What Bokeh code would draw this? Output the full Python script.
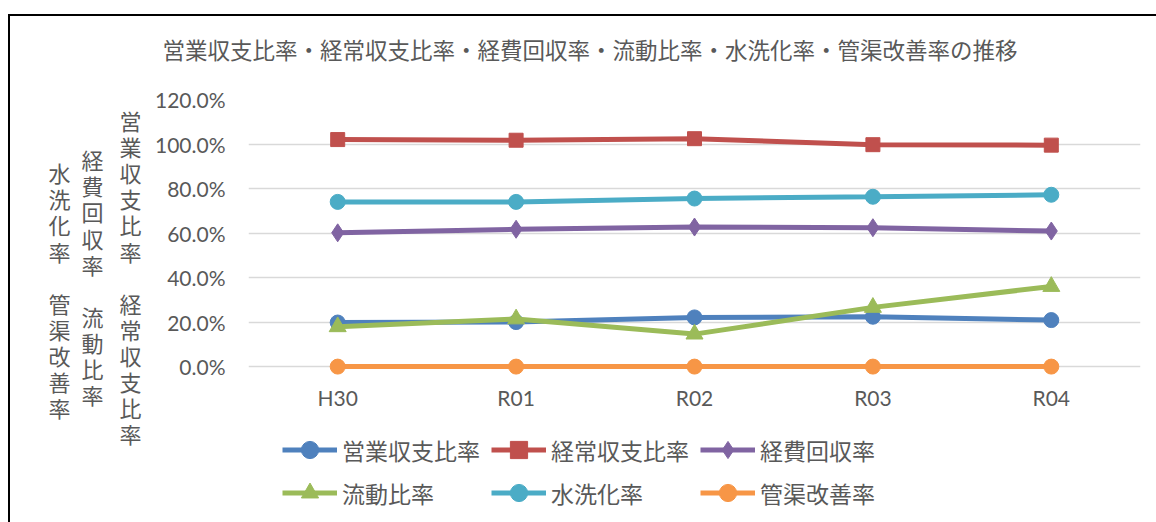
from bokeh.plotting import figure
from bokeh.layouts import column
from bokeh.models import (Range1d, FactorRange, Legend, LegendItem, Title, LinearAxis,
                          PrintfTickFormatter, FixedTicker)
from bokeh.embed import file_html
from bokeh.resources import INLINE

# ---- data ----
categories = ["H30", "R01", "R02", "R03", "R04"]
eigyo = [19.8, 20.0, 22.1, 22.4, 20.9]      # 営業収支比率
keijo = [102.0, 101.7, 102.4, 99.7, 99.5]   # 経常収支比率
keihi = [60.1, 61.7, 62.7, 62.4, 60.9]      # 経費回収率
ryudo = [17.9, 21.4, 14.6, 26.6, 36.0]      # 流動比率
suisen = [74.0, 74.0, 75.5, 76.3, 77.2]     # 水洗化率
kankyo = [0.0, 0.0, 0.0, 0.0, 0.0]          # 管渠改善率
series_names = ["営業収支比率", "経常収支比率", "経費回収率", "流動比率", "水洗化率", "管渠改善率"]
y_ticks = [0, 20, 40, 60, 80, 100, 120]
title_text = "営業収支比率・経常収支比率・経費回収率・流動比率・水洗化率・管渠改善率の推移"
axis_title_parts = [["営業収支比率", "経常収支比率"], ["経費回収率", "流動比率"], ["水洗化率", "管渠改善率"]]

CJK = "Noto Sans CJK JP"
NUM = "Lato"
TXT = "#595959"
BLANK = "\u3000"

# ---- main chart ----
p = figure(width=1146, height=506, title=None,
           x_range=FactorRange(*categories, range_padding=0),
           y_range=Range1d(-4, 120), output_backend="svg", toolbar_location=None,
           min_border_left=238, min_border_right=16, min_border_top=83, min_border_bottom=147)
p.outline_line_color = None
p.background_fill_color = "white"
p.border_fill_color = "white"

p.xgrid.grid_line_color = None
p.ygrid.grid_line_color = "#D9D9D9"
p.ygrid.grid_line_width = 1.5
p.yaxis.ticker = FixedTicker(ticks=y_ticks)
p.yaxis.formatter = PrintfTickFormatter(format="%.1f%%")
for ax in (p.xaxis[0], p.yaxis[0]):
    ax.axis_line_color = None
    ax.major_tick_line_color = None
    ax.minor_tick_line_color = None
    ax.major_tick_out = 0
    ax.minor_tick_out = 0
    ax.major_label_text_font = NUM
    ax.major_label_text_font_size = "21px"
    ax.major_label_text_color = TXT
p.yaxis.major_label_standoff = 23
p.xaxis.major_label_standoff = 9

# spacer (closest to the frame) then the real title above it
p.add_layout(Title(text=BLANK, text_font=CJK, text_font_size="10px", standoff=18,
                   text_color="white"), "above")
p.add_layout(Title(text=title_text, align="left", offset=-86, standoff=0,
                   text_font=CJK, text_font_size="22.5px", text_color=TXT,
                   text_font_style="normal"), "above")

# vertical stacked axis title: three columns of upright characters
lead_blanks = [3, 3, 4]
standoffs = [10, 13, 8]
for parts, nb, so in zip(axis_title_parts, lead_blanks, standoffs):
    lines = [BLANK] * nb + list(parts[0]) + [BLANK] + list(parts[1])
    ax = LinearAxis(axis_label="\n".join(lines), ticker=FixedTicker(ticks=[]),
                    axis_line_color=None, major_tick_line_color=None,
                    minor_tick_line_color=None, major_tick_out=0, minor_tick_out=0,
                    axis_label_orientation="horizontal",
                    axis_label_standoff=so, axis_label_text_font=CJK,
                    axis_label_text_font_size="22px", axis_label_text_color=TXT,
                    axis_label_text_font_style="normal", axis_label_text_line_height=0.813)
    p.add_layout(ax, "left")

specs = [
    (eigyo, "#4F81BD", "circle", 15),
    (keijo, "#C0504D", "square", 14),
    (keihi, "#8064A2", "diamond", 18),
    (ryudo, "#9BBB59", "triangle", 17),
    (suisen, "#4BACC6", "circle", 15),
    (kankyo, "#F79646", "circle", 15),
]
for vals, color, marker, size in specs:
    p.line(categories, vals, line_color=color, line_width=5)
    p.scatter(categories, vals, marker=marker, size=size, fill_color=color, line_color=color)

# ---- legend strip (transparent, laid over the bottom of the chart) ----
q = figure(width=1146, height=94, x_range=FactorRange(*categories), y_range=Range1d(1000, 1001),
           x_axis_type=None, y_axis_type=None, output_backend="svg", toolbar_location=None,
           min_border=0, title=None)
q.outline_line_color = None
q.grid.grid_line_color = None
q.border_fill_alpha = 0
q.background_fill_alpha = 0
q.styles = {"margin-top": "-94px"}
items = []
for (vals, color, marker, size), name in zip(specs, series_names):
    l = q.line(categories, vals, line_color=color, line_width=5)
    s = q.scatter(categories, vals, marker=marker, size=size, fill_color=color, line_color=color)
    items.append(LegendItem(label=name, renderers=[l, s]))
legend = Legend(items=items, orientation="horizontal", nrows=2, location=(34, 8),
                padding=0, margin=0, spacing=0, glyph_width=55, glyph_height=43,
                label_height=43, label_width=149, label_standoff=5,
                border_line_color=None, background_fill_alpha=0,
                label_text_font=CJK, label_text_font_size="23px", label_text_color=TXT)
q.add_layout(legend, "center")

layout = column(p, q, spacing=0,
                styles={"margin-left": "8px", "margin-top": "14px",
                        "border-top": "2px solid #000000", "border-left": "2px solid #000000"})

open("out.html", "w").write(file_html(layout, INLINE))
